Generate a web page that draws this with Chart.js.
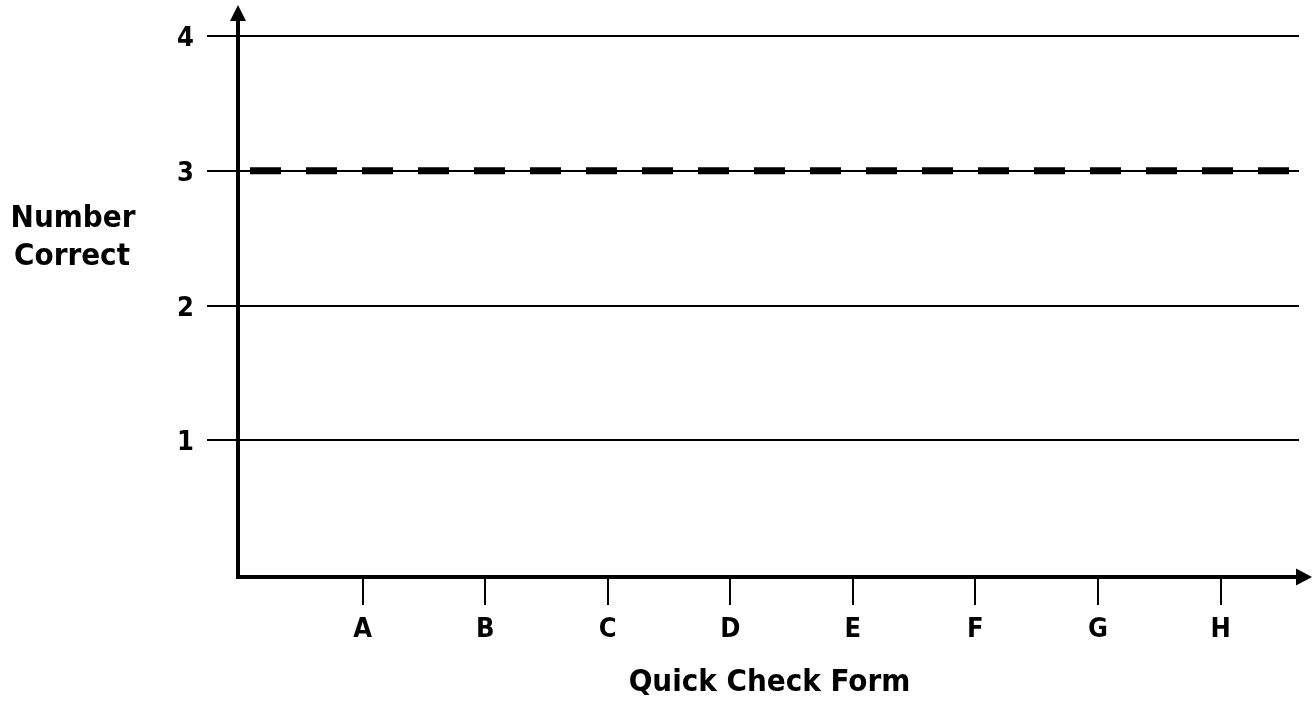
<!DOCTYPE html>
<html>
<head>
<meta charset="utf-8">
<script src="https://cdn.jsdelivr.net/npm/chart.js@4"></script>
<style>
  html, body { margin: 0; padding: 0; background: #fff; }
  canvas { display: block; }
</style>
</head>
<body>
<canvas id="c" width="1313" height="704"></canvas>
<script>
// ---- data ----
const categories = ['A', 'B', 'C', 'D', 'E', 'F', 'G', 'H'];
const categoryPositions = [1, 2, 3, 4, 5, 6, 7, 8];
const yTickValues = [1, 2, 3, 4];
const goalLine = [3, 3];
const xTitle = 'Quick Check Form';
const yTitleLines = ['Number', 'Correct'];

const X_MIN = 0, X_MAX = 8.64;
const FONT = "'DejaVu Sans Condensed', 'DejaVu Sans', Verdana, sans-serif";

const axesPlugin = {
  id: 'axesArrows',
  afterDraw(chart) {
    const ctx = chart.ctx;
    const ca = chart.chartArea;
    const axX = ca.left - 2;
    const axY = ca.bottom + 2;
    ctx.save();
    ctx.strokeStyle = '#000';
    ctx.fillStyle = '#000';
    ctx.lineWidth = 4;
    ctx.lineCap = 'butt';
    // y axis
    ctx.beginPath();
    ctx.moveTo(axX, 19);
    ctx.lineTo(axX, axY + 2);
    ctx.stroke();
    ctx.beginPath();
    ctx.moveTo(axX, 5);
    ctx.lineTo(axX - 8, 21);
    ctx.lineTo(axX + 8, 21);
    ctx.closePath();
    ctx.fill();
    // x axis
    ctx.beginPath();
    ctx.moveTo(axX - 2, axY);
    ctx.lineTo(1298, axY);
    ctx.stroke();
    ctx.beginPath();
    ctx.moveTo(1312, axY);
    ctx.lineTo(1296, axY - 8.5);
    ctx.lineTo(1296, axY + 8.5);
    ctx.closePath();
    ctx.fill();
    // y title (horizontal)
    ctx.font = 'bold 31px ' + FONT;
    ctx.textAlign = 'center';
    ctx.textBaseline = 'alphabetic';
    ctx.fillText(yTitleLines[0], 73, 227);
    ctx.fillText(yTitleLines[1], 72, 265);
    ctx.restore();
  }
};

new Chart(document.getElementById('c'), {
  type: 'line',
  data: {
    datasets: [{
      label: 'Goal',
      data: [{ x: X_MIN, y: goalLine[0] }, { x: X_MAX, y: goalLine[1] }],
      borderColor: '#000',
      borderWidth: 7,
      borderDash: [31, 25],
      borderDashOffset: 46,
      borderCapStyle: 'butt',
      pointRadius: 0,
      fill: false,
      tension: 0
    }]
  },
  options: {
    responsive: false,
    animation: false,
    layout: { padding: { left: 0, top: 36, right: 14, bottom: 0 } },
    plugins: { legend: { display: false }, tooltip: { enabled: false } },
    scales: {
      x: {
        type: 'linear',
        min: X_MIN,
        max: X_MAX,
        afterFit(s) { s.height = 129; },
        afterBuildTicks(s) { s.ticks = categoryPositions.map(v => ({ value: v })); },
        border: { display: false },
        grid: {
          drawOnChartArea: false,
          drawTicks: true,
          tickLength: 30,
          color: '#000',
          lineWidth: 2
        },
        ticks: {
          autoSkip: false,
          maxRotation: 0,
          padding: 9,
          color: '#000',
          font: { family: FONT, size: 27, weight: 'bold' },
          callback: (v) => {
            const i = categoryPositions.indexOf(v);
            return i >= 0 ? categories[i] : '';
          }
        },
        title: {
          display: true,
          text: xTitle,
          color: '#000',
          font: { family: FONT, size: 31, weight: 'bold' },
          padding: { top: 0, bottom: 2 }
        }
      },
      y: {
        type: 'linear',
        min: 0,
        max: 4,
        afterFit(s) { s.width = 240; },
        afterBuildTicks(s) { s.ticks = [0].concat(yTickValues).map(v => ({ value: v })); },
        border: { display: false },
        grid: {
          drawTicks: true,
          tickLength: 33,
          color: (c) => (c.tick && c.tick.value === 0) ? 'rgba(0,0,0,0)' : '#000',
          lineWidth: 2
        },
        ticks: {
          padding: 13,
          labelOffset: 3,
          color: '#000',
          font: { family: FONT, size: 27, weight: 'bold' },
          callback: (v) => (yTickValues.includes(v) ? String(v) : '')
        }
      }
    }
  },
  plugins: [axesPlugin]
});
</script>
</body>
</html>
